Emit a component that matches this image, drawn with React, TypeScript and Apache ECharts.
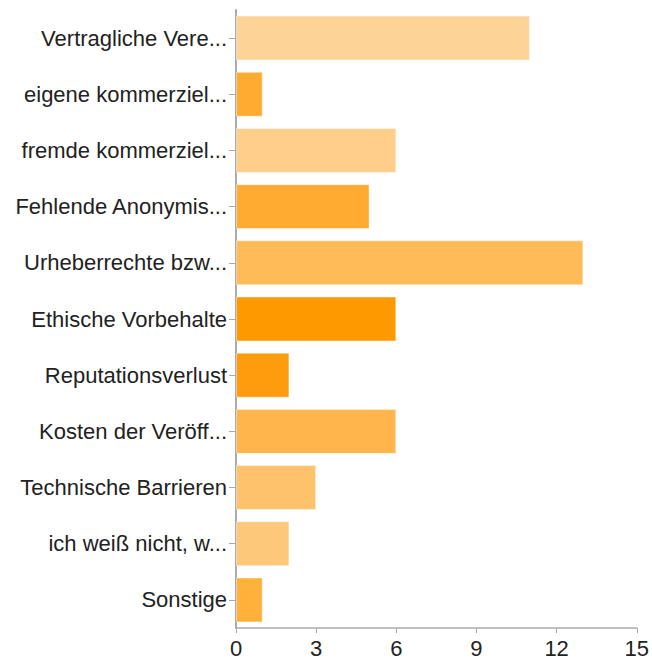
import React, { useEffect, useRef } from "react";
import * as echarts from "echarts";

const categories = [
  "Vertragliche Vere...",
  "eigene kommerziel...",
  "fremde kommerziel...",
  "Fehlende Anonymis...",
  "Urheberrechte bzw...",
  "Ethische Vorbehalte",
  "Reputationsverlust",
  "Kosten der Veröff...",
  "Technische Barrieren",
  "ich weiß nicht, w...",
  "Sonstige",
];
const values = [11, 1, 6, 5, 13, 6, 2, 6, 3, 2, 1];
const barColors = [
  "#FDD397",
  "#FFAB31",
  "#FECE8A",
  "#FFAB31",
  "#FEBB58",
  "#FF9900",
  "#FF9C0E",
  "#FFB54B",
  "#FEC26C",
  "#FEC87A",
  "#FFB139",
];
const xTicks = { min: 0, max: 15, interval: 3 };

export default function App() {
  const ref = useRef<HTMLDivElement>(null);
  useEffect(() => {
    if (!ref.current) return;
    const chart = echarts.init(ref.current, undefined, { renderer: "svg" });
    chart.setOption({
      animation: false,
      grid: { left: 236, right: 14, top: 10, bottom: 31, containLabel: false },
      xAxis: {
        type: "value",
        min: xTicks.min,
        max: xTicks.max,
        interval: xTicks.interval,
        splitLine: { show: false },
        axisLine: { show: true, lineStyle: { color: "#aaaaaa", width: 1.5 } },
        axisTick: { show: true, length: 5, lineStyle: { color: "#aaaaaa" } },
        axisLabel: {
          color: "#222222",
          fontFamily: "Liberation Sans, Arial, sans-serif",
          fontSize: 22,
          margin: 9,
        },
      },
      yAxis: {
        type: "category",
        data: categories,
        inverse: true,
        axisLine: { show: true, lineStyle: { color: "#aaaaaa", width: 2 } },
        axisTick: { show: true, alignWithLabel: true, length: 7, lineStyle: { color: "#aaaaaa" } },
        axisLabel: {
          color: "#222222",
          fontFamily: "Liberation Sans, Arial, sans-serif",
          fontSize: 22,
          margin: 9,
        },
      },
      series: [
        {
          type: "bar",
          data: values.map((v, i) => ({
            value: v,
            itemStyle: { color: barColors[i] },
          })),
          barCategoryGap: "20%",
          itemStyle: { borderColor: "rgba(255,255,255,0.45)", borderWidth: 1 },
        },
      ],
    });
    return () => chart.dispose();
  }, []);
  return (
    <div
      ref={ref}
      style={{ position: "fixed", left: 0, top: 0, width: 652, height: 659, background: "#fff" }}
    />
  );
}
